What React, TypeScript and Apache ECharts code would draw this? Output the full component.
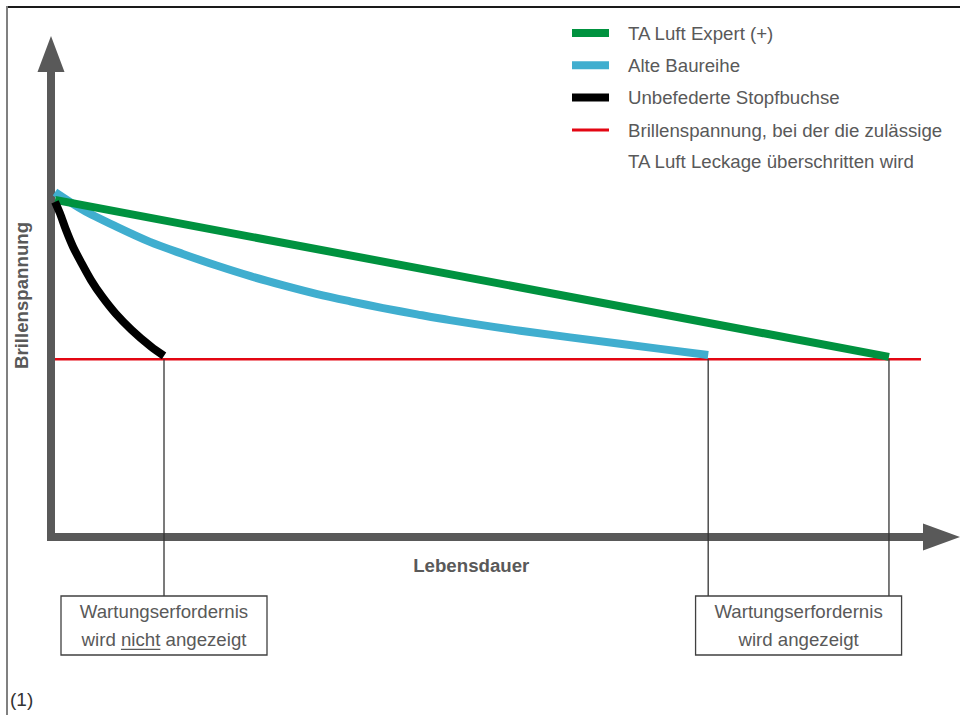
import React, { useEffect, useRef } from 'react';
import * as echarts from 'echarts';

// ---- data -------------------------------------------------------------
// Both axes are unitless (relative service life vs. relative gland tension).
const lifeRange = [0, 100];
const tensionRange = [0, 100];

const lifeTitle = 'Lebensdauer';
const tensionTitle = 'Brillenspannung';

const expertName = 'TA Luft Expert (+)';
const expertLife = [0.45, 94.1];
const expertTension = [69.8, 37.3];

const oldName = 'Alte Baureihe';
const oldLife = [0.45, 3.6, 7.4, 11.1, 14.8, 18.6, 22.4, 26.1, 29.9, 33.6, 37.3, 41.1, 44.8, 52.7, 63.9, 73.8];
const oldTension = [71.4, 67.7, 64.2, 61.1, 58.6, 56.2, 54.0, 52.1, 50.3, 48.8, 47.4, 46.1, 44.9, 42.7, 40.0, 37.7];

const unsprungName = 'Unbefederte Stopfbuchse';
const unsprungLife = [0.45, 1.01, 1.68, 2.47, 3.43, 4.49, 5.73, 7.24, 9.04, 11.23, 12.69];
const unsprungTension = [69.4, 67.0, 63.6, 60.1, 56.7, 53.2, 49.8, 46.3, 42.9, 39.4, 37.5];

const thresholdLines = ['Brillenspannung, bei der die zulässige', 'TA Luft Leckage überschritten wird'];
const thresholdName = thresholdLines.join(' ');
const thresholdTension = 36.8;
const thresholdLife = [0.45, 97.7];

const noticeHidden = ['Wartungserfordernis', 'wird nicht angezeigt'];
const noticeShown = ['Wartungserfordernis', 'wird angezeigt'];
const emphasisWord = 'nicht';
const footnote = '(1)';

// ---- styles -----------------------------------------------------------
const FONT = 'Arial, "Liberation Sans", Helvetica, sans-serif';
const TEXT_GREY = '#595959';
const AXIS_GREY = '#595959';
const GREEN = '#00923f';
const BLUE = '#40aecf';
const BLACK = '#000000';
const RED = '#e30613';
const FS = 18.67;

const BOX_TOP = 596;
const BOX_H = 59;
const BOX_W = 206;
const BOX_LINE_H = 28.7;

const zip = (xs: number[], ys: number[]) => xs.map((x, i) => [x, ys[i]]);

const measure = (s: string, size: number) => {
  const ctx = document.createElement('canvas').getContext('2d');
  if (!ctx) return s.length * size * 0.5;
  ctx.font = `${size}px ${FONT}`;
  return ctx.measureText(s).width;
};

function axisBase(arrow: number[]) {
  return {
    type: 'value' as const,
    z: 3,
    axisLine: {
      show: true,
      onZero: false,
      symbol: ['none', 'triangle'],
      symbolSize: arrow,
      lineStyle: { color: AXIS_GREY, width: 8, cap: 'square' },
    },
    axisTick: { show: false },
    axisLabel: { show: false },
    splitLine: { show: false },
    nameLocation: 'middle' as const,
    nameTextStyle: { color: TEXT_GREY, fontFamily: FONT, fontSize: FS, fontWeight: 'bold' },
  };
}

function lineSeries(name: string, xs: number[], ys: number[], color: string, width: number, smooth: number | boolean) {
  return {
    type: 'line' as const,
    name,
    data: zip(xs, ys),
    smooth,
    symbol: 'none',
    showSymbol: false,
    silent: true,
    color,
    lineStyle: { color, width, cap: 'butt', join: 'round' },
  };
}

export default function App() {
  const ref = useRef<HTMLDivElement>(null);

  useEffect(() => {
    if (!ref.current) return;
    const chart = echarts.init(ref.current, undefined, { renderer: 'svg' });

    const legendText = { color: TEXT_GREY, fontFamily: FONT, fontSize: FS };

    chart.setOption({
      animation: false,
      grid: { left: 51, top: 54, right: 18.5, bottom: 178, containLabel: false },
      xAxis: {
        ...axisBase([27, 37]),
        min: lifeRange[0],
        max: lifeRange[1],
        name: lifeTitle,
        nameGap: 19,
        nameTextStyle: { ...axisBase([0, 0]).nameTextStyle, padding: [0, 50, 0, 0] },
      },
      yAxis: {
        ...axisBase([27, 36]),
        min: tensionRange[0],
        max: tensionRange[1],
        name: tensionTitle,
        nameGap: 20,
      },
      legend: [
        {
          data: [expertName, oldName, unsprungName],
          orient: 'vertical',
          left: 572,
          top: 17,
          padding: 0,
          itemGap: 0,
          itemWidth: 37,
          itemHeight: 8,
          icon: 'rect',
          selectedMode: false,
          itemStyle: { borderWidth: 0 },
          textStyle: { ...legendText, lineHeight: 32.2, padding: [0, 0, 0, 14] },
        },
        {
          // a blank leading line keeps the swatch level with the first text line
          data: [thresholdName],
          orient: 'vertical',
          left: 572,
          top: 83.5,
          padding: 0,
          itemWidth: 37,
          itemHeight: 3,
          icon: 'rect',
          selectedMode: false,
          itemStyle: { borderWidth: 0 },
          formatter: () => [' ', ...thresholdLines].join('\n'),
          textStyle: { ...legendText, lineHeight: 31, padding: [0, 0, 0, 14] },
        },
      ],
      series: [
        lineSeries(thresholdName, thresholdLife, [thresholdTension, thresholdTension], RED, 2.5, false),
        lineSeries(oldName, oldLife, oldTension, BLUE, 8, 0.3),
        lineSeries(expertName, expertLife, expertTension, GREEN, 8, false),
        lineSeries(unsprungName, unsprungLife, unsprungTension, BLACK, 8, 0.3),
      ],
    });

    // Annotation layer: connectors from each end of life down to the notice boxes
    const toPx = (x: number, y: number) =>
      chart.convertToPixel({ gridIndex: 0 }, [x, y]) as unknown as number[];

    const last = (a: number[]) => a[a.length - 1];
    const unsprungEnd = toPx(last(unsprungLife), thresholdTension);
    const oldEnd = toPx(last(oldLife), thresholdTension);
    const expertEnd = toPx(last(expertLife), thresholdTension);

    const connector = (p: number[]) => ({
      type: 'line',
      z: 10,
      silent: true,
      shape: { x1: p[0], y1: p[1], x2: p[0], y2: BOX_TOP },
      style: { stroke: '#333333', lineWidth: 1.3 },
    });

    const noticeBox = (cx: number, lines: string[]) => {
      const cy = BOX_TOP + BOX_H / 2;
      const els: any[] = [
        {
          type: 'rect',
          z: 10,
          silent: true,
          shape: { x: cx - BOX_W / 2, y: BOX_TOP, width: BOX_W, height: BOX_H },
          style: { fill: '#ffffff', stroke: '#404040', lineWidth: 1.3 },
        },
        {
          type: 'text',
          z: 11,
          silent: true,
          style: {
            text: lines.join('\n'),
            x: cx,
            y: cy,
            align: 'center',
            verticalAlign: 'middle',
            fontFamily: FONT,
            fontSize: FS,
            lineHeight: BOX_LINE_H,
            fill: TEXT_GREY,
          },
        },
      ];
      lines.forEach((line, i) => {
        const idx = line.indexOf(emphasisWord);
        if (idx < 0) return;
        const full = measure(line, FS);
        const pre = measure(line.slice(0, idx), FS);
        const word = measure(emphasisWord, FS);
        const lineCenter = cy + (i - (lines.length - 1) / 2) * BOX_LINE_H;
        const x0 = cx - full / 2 + pre;
        const uy = lineCenter + 9.5;
        els.push({
          type: 'line',
          z: 11,
          silent: true,
          shape: { x1: x0, y1: uy, x2: x0 + word, y2: uy },
          style: { stroke: TEXT_GREY, lineWidth: 1.2 },
        });
      });
      return els;
    };

    chart.setOption({
      graphic: [
        {
          type: 'line',
          silent: true,
          shape: { x1: 6, y1: 7, x2: 960, y2: 7 },
          style: { stroke: '#1a1a1a', lineWidth: 2 },
        },
        {
          type: 'line',
          silent: true,
          shape: { x1: 7, y1: 6, x2: 7, y2: 715 },
          style: { stroke: '#808080', lineWidth: 2 },
        },
        {
          type: 'text',
          silent: true,
          style: {
            text: footnote,
            x: 10,
            y: 699,
            align: 'left',
            verticalAlign: 'middle',
            fontFamily: FONT,
            fontSize: 19,
            fill: '#333333',
          },
        },
        connector(unsprungEnd),
        connector(oldEnd),
        connector(expertEnd),
        ...noticeBox(unsprungEnd[0], noticeHidden),
        ...noticeBox((oldEnd[0] + expertEnd[0]) / 2, noticeShown),
      ],
    });

    return () => chart.dispose();
  }, []);

  return (
    <div
      ref={ref}
      style={{ position: 'absolute', left: 0, top: 0, width: 960, height: 715, background: '#ffffff' }}
    />
  );
}
